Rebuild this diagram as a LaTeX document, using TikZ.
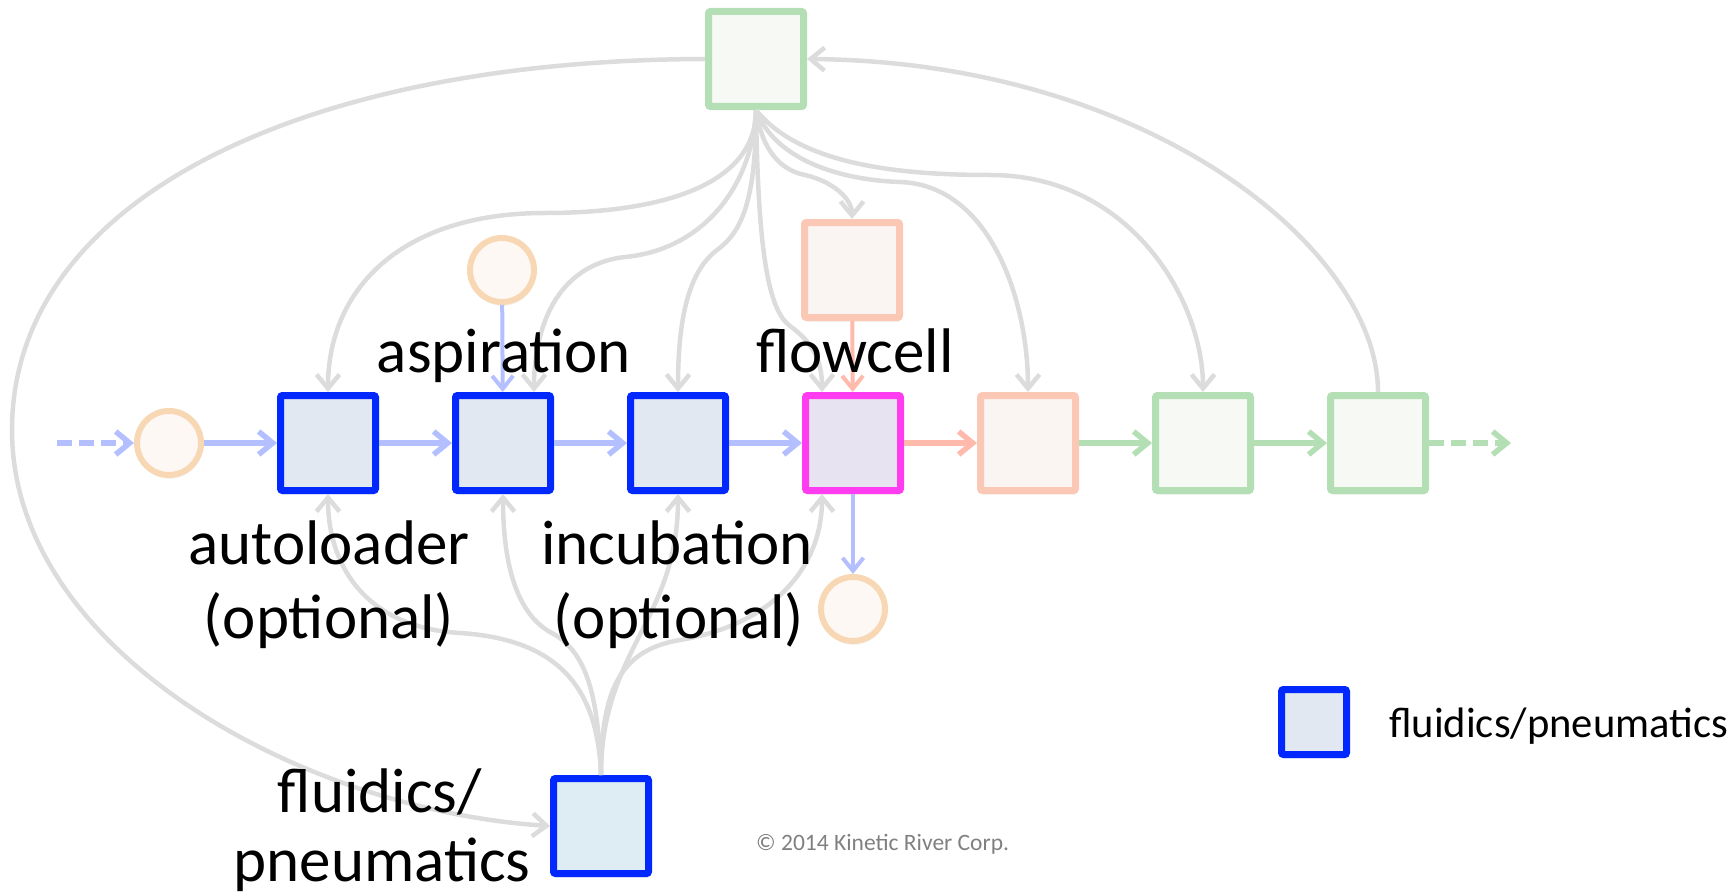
\documentclass[tikz,border=0pt]{standalone}
\usepackage{fontspec}
\setmainfont{Carlito}
\usetikzlibrary{arrows.meta,shadows}

% palette
\definecolor{fluEdge}{RGB}{0,40,255}
\definecolor{fluFill}{RGB}{226,232,242}
\definecolor{fluFillB}{RGB}{222,236,244}
\definecolor{cellEdge}{RGB}{255,60,240}
\definecolor{cellFill}{RGB}{232,227,240}
\definecolor{peachEdge}{RGB}{252,200,182}
\definecolor{peachFill}{RGB}{250,244,243}
\definecolor{leafEdge}{RGB}{180,222,180}
\definecolor{leafFill}{RGB}{247,249,245}
\definecolor{portEdge}{RGB}{248,216,180}
\definecolor{portFill}{RGB}{254,248,245}
\definecolor{ctrlGray}{RGB}{220,220,220}
\definecolor{pipeBlue}{RGB}{180,191,255}
\definecolor{pipeSalmon}{RGB}{255,186,172}
\definecolor{pipeGreen}{RGB}{180,222,180}
\definecolor{noteGray}{RGB}{128,128,128}

\tikzset{
  unit/.style={draw, rounded corners=2pt, minimum size=95pt, line width=7pt,
    inner sep=0pt, drop shadow={opacity=0.12, shadow xshift=1pt, shadow yshift=-4pt}},
  fluid/.style={unit, draw=fluEdge, fill=fluFill},
  cell/.style={unit, draw=cellEdge, fill=cellFill},
  peach/.style={unit, draw=peachEdge, fill=peachFill},
  leaf/.style={unit, draw=leafEdge, fill=leafFill},
  port/.style={circle, draw=portEdge, fill=portFill, line width=6pt,
    minimum size=64pt, inner sep=0pt,
    drop shadow={opacity=0.08, shadow xshift=1pt, shadow yshift=-4pt}},
  barb/.tip={Straight Barb[length=14pt,width=23pt]},
  ctrl/.style={draw=ctrlGray, line width=4.5pt, -barb},
  pipe/.style={line width=5.5pt, -barb},
  feed/.style={line width=4pt, -{Straight Barb[length=13pt,width=21pt]}},
  dashpipe/.style={pipe, dash pattern=on 15pt off 7pt},
  lbl/.style={font=\fontsize{63}{75}\selectfont, anchor=base, inner sep=0pt},
}

\begin{document}
\begin{tikzpicture}[x=1pt, y=-1pt]
\useasboundingbox (0,0) rectangle (1734,896);

% ---- units ----
\node[leaf]  (ctl)  at (756,59)   {};
\node[peach] (reag) at (852,270)  {};
\node[port]  (asp0) at (502,270)  {};
\node[port]  (src)  at (169,443)  {};
\node[fluid] (auto) at (328,443)  {};
\node[fluid] (asp)  at (503,443)  {};
\node[fluid] (inc)  at (678,443)  {};
\node[cell]  (flow) at (853,443)  {};
\node[peach] (det)  at (1028,443) {};
\node[leaf]  (ana)  at (1203,443) {};
\node[leaf]  (out)  at (1378,443) {};
\node[port]  (waste) at (853,609) {};
\node[fluid, fill=fluFillB] (fp) at (601,826) {};
\node[fluid, minimum size=65pt] (key) at (1314,722) {};

\coordinate (inlet)  at (57,443);
\coordinate (outlet) at (1511,443);

% ---- control lines from the top unit ----
\draw[ctrl] (ctl.south) .. controls (756,190) and (650,213) .. (545,213)
            .. controls (400,213) and (328,290) .. (auto.north);
\draw[ctrl] (ctl.south) .. controls (752,190) and (700,250) .. (625,257)
            .. controls (555,265) and (534,330) .. ([xshift=31pt]asp.north);
\draw[ctrl] (ctl.south) .. controls (756,200) and (742,232) .. (717,250)
            .. controls (688,272) and (678,320) .. (inc.north);
\draw[ctrl] (ctl.south) .. controls (758,250) and (768,310) .. (790,326)
            .. controls (812,342) and (822,360) .. ([xshift=-31pt]flow.north);
\draw[ctrl] (ctl.south) .. controls (762,150) and (780,170) .. (805,175)
            .. controls (835,182) and (852,200) .. (reag.north);
\draw[ctrl] (ctl.south) .. controls (775,160) and (840,180) .. (900,182)
            .. controls (990,185) and (1028,300) .. (det.north);
\draw[ctrl] (ctl.south) .. controls (800,165) and (900,175) .. (990,175)
            .. controls (1130,175) and (1203,300) .. (ana.north);
\draw[ctrl] (out.north) .. controls (1378,250) and (1150,62) .. (ctl.east);
\draw[ctrl] (ctl.west) .. controls (300,60) and (12,200) .. (12,430)
            .. controls (12,650) and (300,810) .. (fp.west);

% ---- fluidics/pneumatics lines ----
\draw[ctrl] (fp.north) .. controls (598,700) and (570,640) .. (460,633)
            .. controls (370,628) and (328,570) .. (auto.south);
\draw[ctrl] (fp.north) .. controls (598,690) and (585,650) .. (550,632)
            .. controls (515,612) and (503,560) .. (asp.south);
\draw[ctrl] (fp.north) .. controls (601,650) and (678,620) .. (inc.south);
\draw[ctrl] (fp.north) .. controls (601,690) and (620,650) .. (680,640)
            .. controls (770,625) and (822,570) .. ([xshift=-31pt]flow.south);

% ---- sample path ----
\draw[dashpipe, draw=pipeBlue] (inlet) -- (src);
\draw[pipe, draw=pipeBlue] (src) -- (auto);
\draw[pipe, draw=pipeBlue] (auto) -- (asp);
\draw[pipe, draw=pipeBlue] (asp) -- (inc);
\draw[pipe, draw=pipeBlue] (inc) -- (flow);
\draw[pipe, draw=pipeSalmon] (flow) -- (det);
\draw[pipe, draw=pipeGreen] (det) -- (ana);
\draw[pipe, draw=pipeGreen] (ana) -- (out);
\draw[dashpipe, draw=pipeGreen] (out) -- (outlet);
\draw[feed, draw=pipeBlue] (asp0) -- (asp);
\draw[feed, draw=pipeSalmon] (reag) -- (flow);
\draw[feed, draw=pipeBlue] (flow) -- (waste);

% ---- labels ----
\node[lbl] at (504,372) {aspiration};
\node[lbl] at (855,372) {flowcell};
\node[lbl] at (329,564) {autoloader};
\node[lbl] at (329,638) {(optional)};
\node[lbl] at (677,564) {incubation};
\node[lbl] at (679,638) {(optional)};
\node[lbl] at (380,812) {fluidics/};
\node[lbl] at (382,881) {pneumatics};
\node[font=\fontsize{42.6}{50}\selectfont, anchor=base west, inner sep=0pt]
  at (1389,737) {fluidics/pneumatics};
\node[font=\fontsize{23.5}{28}\selectfont, text=noteGray, anchor=base west, inner sep=0pt]
  at (756,850) {© 2014 Kinetic River Corp.};
\end{tikzpicture}
\end{document}
